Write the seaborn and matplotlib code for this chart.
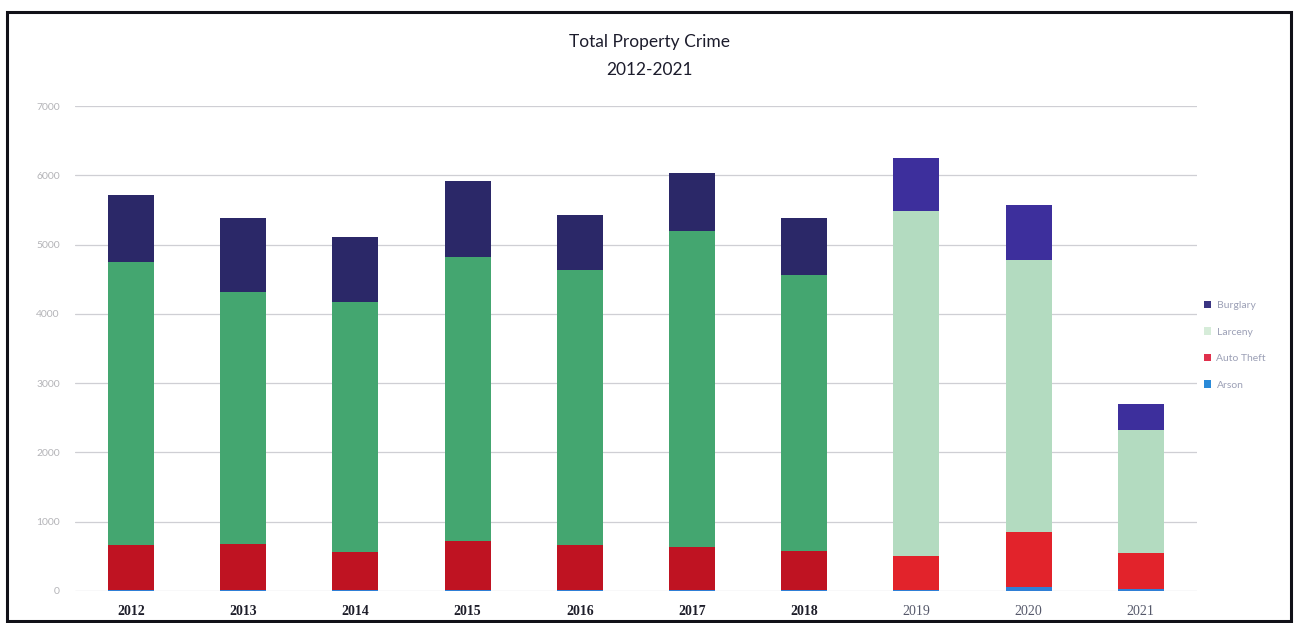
import matplotlib
matplotlib.use("Agg")
import matplotlib.pyplot as plt
from matplotlib.patches import Rectangle, Patch
import pandas as pd
import seaborn as sns

# Property crime counts by category and year
years = ["2012", "2013", "2014", "2015", "2016", "2017", "2018", "2019", "2020", "2021"]
burglary = [967, 1067, 938, 1092, 798, 827, 827, 765, 797, 365]
larceny = [4079, 3641, 3607, 4102, 3964, 4560, 3982, 4984, 3921, 1785]
auto_theft = [648, 659, 555, 699, 647, 625, 560, 494, 794, 514]
arson = [18, 15, 14, 20, 18, 17, 16, 14, 56, 29]

categories = ["Burglary", "Larceny", "Auto Theft", "Arson"]
y_ticks = [0, 1000, 2000, 3000, 4000, 5000, 6000, 7000]

df = pd.DataFrame({
    "year": years,
    "burglary": burglary,
    "larceny": larceny,
    "auto_theft": auto_theft,
    "arson": arson,
})
# cumulative tops so each layer can be drawn in front of the one above it
df["top_arson"] = df["arson"]
df["top_auto"] = df["top_arson"] + df["auto_theft"]
df["top_larceny"] = df["top_auto"] + df["larceny"]
df["top_burglary"] = df["top_larceny"] + df["burglary"]

# older years printed darker, recent years lighter
burg_colors = ["#2b2868"] * 7 + ["#3d2f9c"] * 3
larc_colors = ["#44a670"] * 7 + ["#b3dbc0"] * 3
auto_colors = ["#bf1322"] * 7 + ["#e2232b"] * 3
arson_colors = ["#2f7fd6"] * 10

sns.set_theme(style="white")
plt.rcParams["font.family"] = ["Lato", "DejaVu Sans"]

fig = plt.figure(figsize=(12.97, 6.23), dpi=100)
ax = fig.add_axes([0.0578, 0.0514, 0.865, 0.7784])

layers = [
    ("top_burglary", burg_colors),
    ("top_larceny", larc_colors),
    ("top_auto", auto_colors),
    ("top_arson", arson_colors),
]
for col, colors in layers:
    sns.barplot(data=df, x="year", y=col, hue="year", palette=colors,
                width=0.41, dodge=False, saturation=1, errorbar=None,
                legend=False, linewidth=0, ax=ax, zorder=3)

ax.set_xlim(-0.5, 9.5)
ax.set_ylim(0, 7000)
ax.set_yticks(y_ticks)
ax.set_yticklabels([str(v) for v in y_ticks])
ax.set_xlabel("")
ax.set_ylabel("")
for s in ax.spines.values():
    s.set_visible(False)
ax.grid(axis="y", color="#cfcfd4", linewidth=0.9, zorder=0)
ax.grid(axis="x", visible=False)

ax.tick_params(axis="y", length=0, pad=11, labelsize=7.5, labelcolor="#b4b4b8")
ax.tick_params(axis="x", length=0, pad=10)
for i, lab in enumerate(ax.get_xticklabels()):
    lab.set_family(["Liberation Serif", "DejaVu Serif"])
    lab.set_fontsize(10)
    if i < 7:
        lab.set_fontweight("bold")
        lab.set_color("#1e1e2a")
    else:
        lab.set_color("#55586a")

fig.text(0.501, 1 - 42 / 623, "Total Property Crime", ha="center", va="center",
         fontsize=12.5, color="#1c1c2c")
fig.text(0.501, 1 - 70 / 623, "2012-2021", ha="center", va="center",
         fontsize=12.5, color="#1c1c2c")

legend_colors = ["#3a3482", "#d6ecd9", "#e0304c", "#2a8ad8"]
handles = [Patch(facecolor=c, edgecolor="none") for c in legend_colors]
fig.legend(handles, categories, loc="upper left",
           bbox_to_anchor=(1204 / 1297, 1 - 301 / 623),
           frameon=False, fontsize=7.5, labelcolor="#9ca0b6",
           handlelength=0.7, handleheight=0.7, handletextpad=0.5,
           labelspacing=1.65, borderpad=0, borderaxespad=0)

fig.add_artist(Rectangle((7 / 1297, 0.004), (1291 - 7) / 1297, 0.9767,
                         transform=fig.transFigure, fill=False,
                         linewidth=2.2, edgecolor="#111118"))

fig.savefig("out.png", dpi=100)
